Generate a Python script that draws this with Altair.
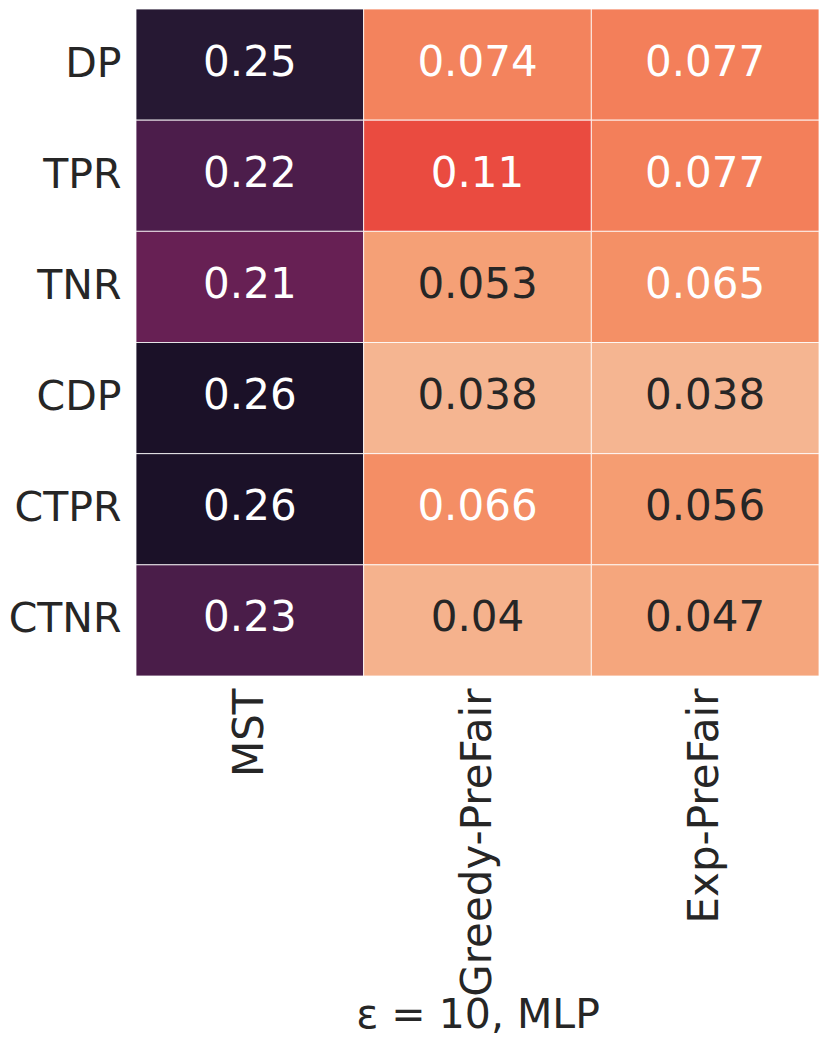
import altair as alt
import pandas as pd

metrics = ["DP", "TPR", "TNR", "CDP", "CTPR", "CTNR"]
methods = ["MST", "Greedy-PreFair", "Exp-PreFair"]
mst_vals = [0.25, 0.22, 0.21, 0.26, 0.26, 0.23]
greedy_vals = [0.074, 0.11, 0.053, 0.038, 0.066, 0.04]
exp_vals = [0.077, 0.077, 0.065, 0.038, 0.056, 0.047]

# colour stops of the (rocket-like) colour scale, high value -> dark
color_domain = [0.038, 0.047, 0.056, 0.066, 0.077, 0.11, 0.212, 0.22, 0.23, 0.25, 0.26]
color_range = ["#f5b591", "#f5a67d", "#f59d72", "#f48e65", "#f37f5a", "#ea4b40",
               "#641f54", "#4c1d4b", "#4a1d49", "#261833", "#1b1128"]

rows = []
for method, vals in zip(methods, [mst_vals, greedy_vals, exp_vals]):
    for m, v in zip(metrics, vals):
        rows.append({"method": method, "metric": m, "val": v})
df = pd.DataFrame(rows)

FONT = "DejaVu Sans"

x = alt.X("method:N", sort=methods, title="ε = 10, MLP",
          scale=alt.Scale(paddingInner=0, paddingOuter=0),
          axis=alt.Axis(labelAngle=270, labelAlign="right", labelBaseline="middle",
                        labelFontSize=42, titleFontSize=41, labelPadding=12,
                        titleY=351, titleBaseline="alphabetic",
                        ticks=False, domain=False, labelLimit=400,
                        labelColor="#262626", titleColor="#262626",
                        labelFont=FONT, titleFont=FONT, titleFontWeight="normal"))
y = alt.Y("metric:N", sort=metrics, title=None,
          scale=alt.Scale(paddingInner=0, paddingOuter=0),
          axis=alt.Axis(labelFontSize=41, labelPadding=15, ticks=False, domain=False,
                        labelBaseline="alphabetic", labelOffset=12,
                        labelLimit=400, labelColor="#262626", labelFont=FONT))

base = alt.Chart(df).encode(x=x, y=y)

rect = base.mark_rect(stroke="white", strokeWidth=0.8).encode(
    color=alt.Color("val:Q", legend=None,
                    scale=alt.Scale(domain=color_domain, range=color_range, interpolate="rgb"))
)

text_light = base.transform_filter("datum.val >= 0.06").mark_text(
    font=FONT, fontSize=42, baseline="alphabetic", align="center", dy=11, color="white"
).encode(text=alt.Text("val:Q", format=".2"))

text_dark = base.transform_filter("datum.val < 0.06").mark_text(
    font=FONT, fontSize=42, baseline="alphabetic", align="center", dy=11, color="#262626"
).encode(text=alt.Text("val:Q", format=".2"))

chart = (rect + text_light + text_dark).properties(
    width=683, height=667,
    autosize=alt.AutoSizeParams(type="none"),
    padding={"left": 128, "top": 1, "right": 3, "bottom": 360},
).configure_view(strokeWidth=0).configure_axis(grid=False)

chart.save("out.html", embed_options={"renderer": "svg", "actions": False})
